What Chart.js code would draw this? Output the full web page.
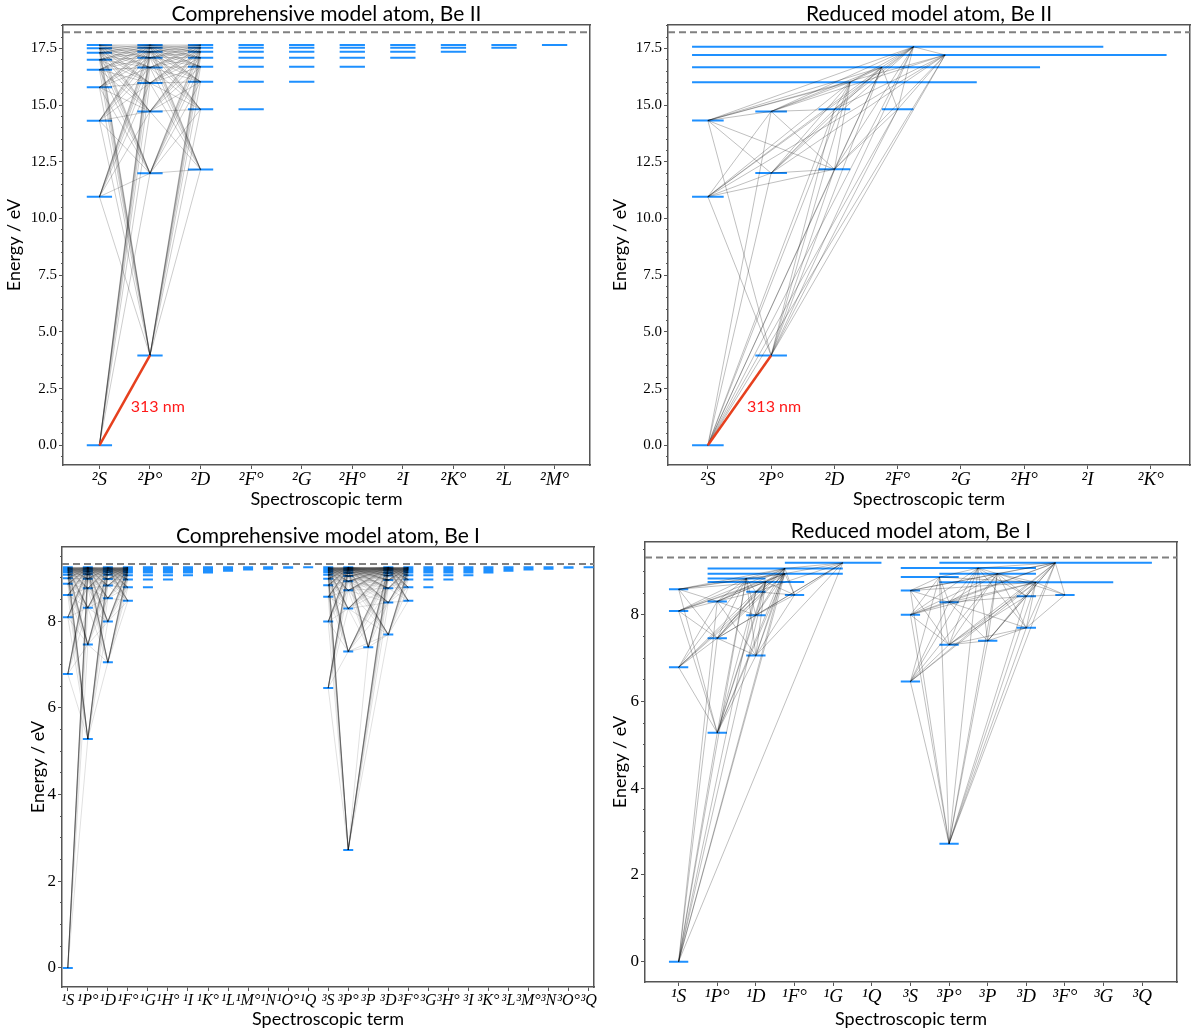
<!DOCTYPE html>
<html>
<head>
<meta charset="utf-8">
<title>Be model atoms</title>
<script src="https://cdn.jsdelivr.net/npm/chart.js@4.4.1/dist/chart.umd.min.js"></script>
<style>
  html, body { margin: 0; padding: 0; background: #fff; }
  #wrap { position: relative; width: 1200px; height: 1034px; }
  .panel { position: absolute; width: 600px; height: 517px; }
</style>
</head>
<body>
<div id="wrap">
  <div class="panel" style="left:0;top:0"><canvas id="beIIFull" width="600" height="517"></canvas></div>
  <div class="panel" style="left:600px;top:0"><canvas id="beIIRed" width="600" height="517"></canvas></div>
  <div class="panel" style="left:0;top:517px"><canvas id="beIFull" width="600" height="517"></canvas></div>
  <div class="panel" style="left:600px;top:517px"><canvas id="beIRed" width="600" height="517"></canvas></div>
</div>
<script>
// ---------- Be II ----------
const beIIIon = 18.21;
const beIITerms = ['²S', '²P°', '²D', '²F°', '²G', '²H°', '²I', '²K°', '²L', '²M°'];
// comprehensive atom: energies (eV) of the levels of each term
const beIIFullLevels = [
  [0.00, 10.96, 14.31, 15.78, 16.56, 17.00, 17.31, 17.50, 17.65],
  [3.96, 11.99, 14.72, 15.97, 16.66, 17.09, 17.35, 17.53, 17.65],
  [12.16, 14.81, 16.03, 16.69, 17.09, 17.35, 17.53, 17.65],
  [14.81, 16.03, 16.69, 17.09, 17.35, 17.53, 17.65],
  [16.03, 16.69, 17.09, 17.35, 17.53, 17.65],
  [16.69, 17.09, 17.35, 17.53, 17.65],
  [17.09, 17.35, 17.53, 17.65],
  [17.35, 17.53, 17.65],
  [17.53, 17.65],
  [17.65]
];
// pairs of terms whose levels are all linked by transitions
const beIIFullLinks = [[0, 1], [1, 2]];

// reduced atom: one entry per (super)level, spanning terms from..to
const beIIRedTerms = ['²S', '²P°', '²D', '²F°', '²G', '²H°', '²I', '²K°'];
const beIIRedE    = [0.00, 10.96, 14.32, 3.96, 12.00, 14.72, 12.17, 14.81, 14.81, 16.01, 16.67, 17.57, 17.21];
const beIIRedFrom = [0, 0, 0, 1, 1, 1, 2, 2, 3, 0, 0, 0, 0];
const beIIRedTo   = [0, 0, 0, 1, 1, 1, 2, 2, 3, 4, 5, 6, 7];
const beIIRedLinks = [
  [0,4],[0,5],[0,6],[0,7],[0,8],[0,9],[0,10],[0,11],[0,12],
  [3,1],[3,2],[3,6],[3,7],[3,8],[3,9],[3,10],[3,11],[3,12],
  [1,4],[1,5],[1,6],[1,9],[1,10],[1,11],[1,12],
  [2,5],[2,6],[2,9],[2,10],[2,11],[2,12],
  [4,2],[4,6],[4,7],[4,9],[4,10],[4,11],[4,12],
  [5,6],[5,7],[5,9],[5,10],[5,11],[5,12],
  [6,8],[6,9],[6,10],[6,11],[6,12],
  [7,9],[7,10],[7,11],[7,12],
  [8,10],[8,11],[8,12],
  [9,10],[9,11],[10,11],[11,12]
];
const beIITicks = [0, 2.5, 5, 7.5, 10, 12.5, 15, 17.5];

// ---------- Be I ----------
const beIIon = 9.32;
const beIFullTerms = ['¹S','¹P°','¹D','¹F°','¹G','¹H°','¹I','¹K°','¹L','¹M°','¹N','¹O°','¹Q',
                      '³S','³P°','³P','³D','³F°','³G','³H°','³I','³K°','³L','³M°','³N','³O°','³Q'];
const beIFullLevels = [
  [0.00, 6.78, 8.09, 8.60, 8.86, 8.99, 9.07, 9.13, 9.17, 9.20, 9.22, 9.24],
  [5.28, 7.46, 8.31, 8.76, 8.98, 9.08, 9.14, 9.18, 9.21, 9.23, 9.24],
  [7.05, 7.99, 8.53, 8.82, 8.97, 9.07, 9.13, 9.17, 9.20, 9.22, 9.24],
  [8.47, 8.78, 8.96, 9.06, 9.12, 9.16, 9.19, 9.21, 9.23, 9.24],
  [8.78, 8.96, 9.06, 9.12, 9.16, 9.19, 9.21, 9.23, 9.24],
  [8.96, 9.06, 9.12, 9.16, 9.19, 9.21, 9.23, 9.24],
  [9.06, 9.12, 9.16, 9.19, 9.21, 9.23, 9.24],
  [9.12, 9.16, 9.19, 9.21, 9.23, 9.24],
  [9.16, 9.19, 9.21, 9.23, 9.24],
  [9.19, 9.21, 9.23, 9.24],
  [9.21, 9.23, 9.24],
  [9.23, 9.24],
  [9.24],
  [6.46, 7.99, 8.56, 8.83, 8.98, 9.07, 9.13, 9.17, 9.20, 9.22, 9.24],
  [2.72, 7.30, 8.29, 8.71, 8.92, 9.04, 9.11, 9.16, 9.19, 9.21, 9.23, 9.24],
  [7.40],
  [7.69, 8.43, 8.76, 8.95, 9.05, 9.11, 9.16, 9.19, 9.21, 9.23, 9.24],
  [8.47, 8.78, 8.96, 9.06, 9.12, 9.16, 9.19, 9.21, 9.23, 9.24],
  [8.78, 8.96, 9.06, 9.12, 9.16, 9.19, 9.21, 9.23, 9.24],
  [8.96, 9.06, 9.12, 9.16, 9.19, 9.21, 9.23, 9.24],
  [9.06, 9.12, 9.16, 9.19, 9.21, 9.23, 9.24],
  [9.12, 9.16, 9.19, 9.21, 9.23, 9.24],
  [9.16, 9.19, 9.21, 9.23, 9.24],
  [9.19, 9.21, 9.23, 9.24],
  [9.21, 9.23, 9.24],
  [9.23, 9.24],
  [9.24]
];
const beIFullLinks = [[0, 1], [1, 2], [2, 3], [13, 14], [14, 15], [14, 16], [15, 16], [16, 17]];

const beIRedTerms = ['¹S','¹P°','¹D','¹F°','¹G','¹Q','³S','³P°','³P','³D','³F°','³G','³Q'];
const beIRedE = [0.00, 6.79, 8.09, 8.59, 5.28, 7.46, 8.31, 7.06, 7.99, 8.53, 8.46, 9.20, 9.07, 8.95, 8.84, 8.76,
                 6.46, 8.00, 8.56, 2.72, 7.31, 8.29, 7.40, 7.70, 8.43, 8.46, 9.20, 9.08, 8.95, 8.87, 8.75];
const beIRedFrom = [0,0,0,0, 1,1,1, 2,2,2, 3, 3,1,1,1,1,  6,6,6, 7,7,7, 8, 9,9, 10, 7,6,7,6,7];
const beIRedTo   = [0,0,0,0, 1,1,1, 2,2,2, 3, 5,4,4,2,3,  6,6,6, 7,7,7, 8, 9,9, 10, 12,9,9,7,11];
const beIRedLinks = [
  [0,4],[0,5],[0,6],[0,9],[0,11],[0,12],[0,13],[0,14],[0,15],
  [4,1],[4,2],[4,3],[4,7],[4,8],[4,9],[4,12],[4,13],[4,14],[4,15],
  [1,5],[1,6],[1,12],[1,13],[1,14],[1,15],
  [2,5],[2,6],[2,12],[2,13],[2,14],[2,15],
  [3,5],[3,6],[3,12],[3,13],[3,14],[3,15],
  [5,7],[5,8],[5,9],[5,11],[5,12],[5,13],[5,14],[5,15],
  [6,7],[6,8],[6,9],[6,12],[6,13],[6,14],[6,15],
  [7,10],[7,11],[7,12],[7,13],[7,14],[7,15],
  [8,10],[8,11],[8,12],[8,13],[8,14],[8,15],
  [9,10],[9,11],[9,12],[9,13],[9,14],[9,15],
  [10,11],[10,12],[10,13],[10,15],
  [11,12],[11,13],[12,14],[12,15],[13,14],[13,15],
  [19,16],[19,17],[19,18],[19,22],[19,23],[19,24],[19,26],[19,27],[19,28],[19,29],[19,30],
  [16,20],[16,21],[16,26],[16,27],[16,28],[16,29],[16,30],
  [17,20],[17,21],[17,26],[17,27],[17,28],[17,29],[17,30],
  [18,20],[18,21],[18,26],[18,28],[18,29],[18,30],
  [20,22],[20,23],[20,24],[20,26],[20,27],[20,28],[20,29],[20,30],
  [21,22],[21,23],[21,24],[21,26],[21,27],[21,28],[21,29],[21,30],
  [22,23],[22,24],[22,26],[22,27],[22,28],[22,30],
  [23,25],[23,26],[23,27],[23,28],[23,30],
  [24,25],[24,26],[24,27],[24,28],[24,30],
  [25,26],[25,28],[25,30],
  [26,27],[26,28],[26,30],[27,28],[27,29],[28,30],[29,30]
];
const beITicks = [0, 2, 4, 6, 8];

// ---------- drawing ----------
const HALF = 0.25;          // half width of a level mark, in term units
const SPINE = '#555';

function fullModel(levels, links) {
  const segs = [], lines = [];
  levels.forEach((list, t) => list.forEach(e => {
    segs.push({x: t - HALF, y: e}, {x: t + HALF, y: e}, {x: t + HALF, y: null});
  }));
  links.forEach(([a, b]) => levels[a].forEach(ea => levels[b].forEach(eb => {
    lines.push([{x: a, y: ea}, {x: b, y: eb}]);
  })));
  return {segs, lines};
}

function reducedModel(E, from, to, links) {
  const segs = [], lines = [];
  const xs = E.map((e, i) => from[i] === to[i] ? from[i] : (from[i] + to[i]) / 2 + HALF);
  E.forEach((e, i) => {
    segs.push({x: from[i] - HALF, y: e}, {x: to[i] + HALF, y: e}, {x: to[i] + HALF, y: null});
  });
  links.forEach(([a, b]) => lines.push([{x: xs[a], y: E[a]}, {x: xs[b], y: E[b]}]));
  return {segs, lines, xs};
}

const lineLabel = {
  id: 'lineLabel',
  afterDatasetsDraw(chart, args, opts) {
    if (!opts || !opts.text) return;
    const {ctx, scales: {x, y}} = chart;
    ctx.save();
    ctx.font = '16px Lato';
    ctx.fillStyle = opts.color;
    ctx.textAlign = 'left';
    ctx.textBaseline = 'middle';
    ctx.fillText(opts.text, x.getPixelForValue(opts.at[0]), y.getPixelForValue(opts.at[1]));
    ctx.restore();
  }
};

function draw(id, p) {
  const datasets = [];
  if (p.resonance) {
    datasets.push({data: p.resonance, borderColor: '#e6401e', borderWidth: 2.5});
  }
  p.model.lines.forEach(l => datasets.push({data: l, borderColor: p.lineColor, borderWidth: 1}));
  datasets.push({data: p.model.segs, borderColor: '#1e90ff', borderWidth: 2});
  datasets.push({
    data: [{x: p.xMin, y: p.ion}, {x: p.xMax, y: p.ion}],
    borderColor: '#808080', borderWidth: 2, borderDash: [7, 4]
  });

  const minor = [];
  for (let v = Math.ceil(p.yMin / 0.5) * 0.5; v <= p.yMax; v += 0.5) minor.push({value: v});

  const spine = {display: true, color: SPINE, width: 1.5};
  new Chart(document.getElementById(id), {
    type: 'line',
    data: {datasets},
    plugins: [lineLabel],
    options: {
      responsive: false,
      animation: false,
      events: [],
      devicePixelRatio: 1,
      layout: {padding: {right: p.padRight, left: 0, top: 0, bottom: 0}},
      elements: {
        point: {radius: 0, hoverRadius: 0},
        line: {tension: 0, fill: false, capBezierPoints: false}
      },
      plugins: {
        legend: {display: false},
        tooltip: {enabled: false},
        title: {
          display: true, text: p.title, fullSize: false, color: '#000',
          font: {family: 'Lato', size: 21, weight: 'normal', lineHeight: 1},
          padding: {top: p.titleTop, bottom: p.titleBottom}
        },
        lineLabel: p.label || {}
      },
      scales: {
        x: {
          type: 'linear', position: 'bottom', min: p.xMin, max: p.xMax,
          afterBuildTicks: s => { s.ticks = p.terms.map((t, i) => ({value: i})); },
          afterFit: s => { s.height = p.xAxisH; },
          ticks: {
            callback: v => p.terms[Math.round(v)], autoSkip: false, maxRotation: 0, minRotation: 0,
            color: '#000', padding: 0,
            font: {family: 'Liberation Serif', style: 'italic', size: p.xFont}
          },
          grid: {drawOnChartArea: false, tickLength: 4, color: SPINE},
          border: spine,
          title: {
            display: true, text: 'Spectroscopic term', color: '#000',
            font: {family: 'Lato', size: 18}, padding: {top: 0, bottom: p.xTitlePad}
          }
        },
        y: {
          type: 'linear', position: 'left', weight: 1, min: p.yMin, max: p.yMax,
          afterBuildTicks: s => { s.ticks = p.yTicks.map(v => ({value: v})); },
          afterFit: s => { s.width = p.yAxisW; },
          ticks: {
            callback: p.yFmt, color: '#000', padding: 2,
            font: {family: 'Liberation Serif', size: p.yFont}
          },
          grid: {drawOnChartArea: false, tickLength: 4, color: SPINE},
          border: spine,
          title: {
            display: true, text: 'Energy / eV', color: '#000',
            font: {family: 'Lato', size: 18}, padding: {top: p.yTitlePad, bottom: 0}
          }
        },
        yMinor: {
          type: 'linear', position: 'left', weight: 0, min: p.yMin, max: p.yMax,
          afterBuildTicks: s => { s.ticks = minor; },
          afterFit: s => { s.width = 0; },
          ticks: {display: false},
          grid: {drawOnChartArea: false, tickLength: 2, color: SPINE},
          border: {display: false}
        },
        xTop: {
          type: 'linear', position: 'top', min: p.xMin, max: p.xMax,
          afterFit: s => { s.height = 0; },
          ticks: {display: false}, grid: {display: false}, border: spine
        },
        yRight: {
          type: 'linear', position: 'right', min: p.yMin, max: p.yMax,
          afterFit: s => { s.width = 0; },
          ticks: {display: false}, grid: {display: false}, border: spine
        }
      }
    }
  });
}

const beIIFull = fullModel(beIIFullLevels, beIIFullLinks);
const beIIRed = reducedModel(beIIRedE, beIIRedFrom, beIIRedTo, beIIRedLinks);
const beIFull = fullModel(beIFullLevels, beIFullLinks);
const beIRed = reducedModel(beIRedE, beIRedFrom, beIRedTo, beIRedLinks);

const fmt1 = v => v.toFixed(1);
const fmt0 = v => String(v);

draw('beIIFull', {
  title: 'Comprehensive model atom, Be II', terms: beIITerms, model: beIIFull,
  lineColor: 'rgba(0,0,0,0.2)', ion: beIIIon,
  resonance: [{x: 0, y: beIIFullLevels[0][0]}, {x: 1, y: beIIFullLevels[1][0]}],
  label: {text: '313 nm', at: [0.62, 1.7], color: '#ff1a1a'},
  xMin: -0.72, xMax: 9.7, yMin: -0.87, yMax: 18.53, yTicks: beIITicks, yFmt: fmt1,
  yAxisW: 63, padRight: 10, titleTop: 3.5, titleBottom: 0.5, xAxisH: 52,
  xFont: 19, yFont: 15, xTitlePad: 7, yTitlePad: 3
});
draw('beIIRed', {
  title: 'Reduced model atom, Be II', terms: beIIRedTerms, model: beIIRed,
  lineColor: 'rgba(0,0,0,0.25)', ion: beIIIon,
  resonance: [{x: beIIRed.xs[0], y: beIIRedE[0]}, {x: beIIRed.xs[3], y: beIIRedE[3]}],
  label: {text: '313 nm', at: [0.62, 1.7], color: '#ff1a1a'},
  xMin: -0.63, xMax: 7.62, yMin: -0.87, yMax: 18.53, yTicks: beIITicks, yFmt: fmt1,
  yAxisW: 68, padRight: 10, titleTop: 3.5, titleBottom: 0.5, xAxisH: 52,
  xFont: 19, yFont: 15, xTitlePad: 7, yTitlePad: 9
});
draw('beIFull', {
  title: 'Comprehensive model atom, Be I', terms: beIFullTerms, model: beIFull,
  lineColor: 'rgba(0,0,0,0.12)', ion: beIIon,
  xMin: -0.29, xMax: 26.27, yMin: -0.44, yMax: 9.71, yTicks: beITicks, yFmt: fmt0,
  yAxisW: 62, padRight: 6, titleTop: 9, titleBottom: 0, xAxisH: 47,
  xFont: 16, yFont: 17, xTitlePad: 4, yTitlePad: 27
});
draw('beIRed', {
  title: 'Reduced model atom, Be I', terms: beIRedTerms, model: beIRed,
  lineColor: 'rgba(0,0,0,0.25)', ion: beIIon,
  xMin: -0.87, xMax: 12.9, yMin: -0.47, yMax: 9.68, yTicks: beITicks, yFmt: fmt0,
  yAxisW: 45, padRight: 23, titleTop: 4, titleBottom: 0, xAxisH: 52,
  xFont: 19, yFont: 17, xTitlePad: 4, yTitlePad: 9
});
</script>
</body>
</html>
